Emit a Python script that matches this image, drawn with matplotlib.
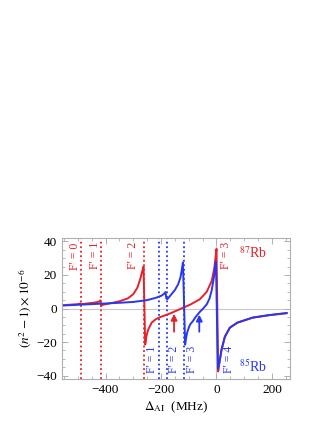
import matplotlib
matplotlib.use("Agg")
import matplotlib.pyplot as plt
from matplotlib.ticker import MultipleLocator

plt.rcParams['font.family'] = ['Liberation Serif', 'DejaVu Serif']
plt.rcParams['mathtext.fontset'] = 'stix'

# readings from the reference picture (MHz, units of 1e-6)
rb87_x = [-550, -500, -490, -486, -440, -425, -419, -416, -410, -380, -350, -320,
          -300, -285, -275, -268, -263, -257, -252, -246, -234, -220, -204, -168,
          -140, -120, -95, -60, -35, -17, -8, -3, 0, 6, 10, 18, 30, 48, 75, 130,
          190, 253]
rb87_y = [2.0, 2.6, 3.0, 2.6, 3.5, 4.0, 4.8, 1.6, 2.2, 3.2, 4.3, 6.0,
          8.5, 12.5, 17.5, 22.0, 25.0, -21.5, -16.0, -12.5, -8.5, -6.5, -5.2, -3.0,
          -1.0, 0.5, 2.3, 5.5, 10.0, 16.5, 24.0, 31.0, 35.5, -37.5, -33.0, -25.0,
          -17.0, -11.5, -8.5, -5.5, -4.0, -2.8]

rb85_x = [-550, -450, -350, -300, -250, -220, -200, -190, -184, -181, -177, -165,
          -150, -138, -130, -125, -121, -113, -110, -106, -100, -95, -85, -75, -60,
          -48, -35, -25, -17, -9, -5, -2, 5, 10, 18, 30, 48, 75, 130, 190, 253]
rb85_y = [1.8, 2.6, 3.4, 3.9, 5.0, 6.3, 7.5, 8.6, 9.8, 6.0, 5.6, 8.0,
          11.0, 14.5, 18.5, 23.0, 27.5, -21.5, -18.0, -14.5, -11.5, -9.5, -7.5, -5.0, -2.0,
          0.0, 2.5, 6.0, 11.0, 19.0, 25.0, 28.0, -36.0, -32.5, -24.5, -16.8, -11.4, -8.4, -5.4, -3.9, -2.7]

rb87_lines = [-489, -417, -260]
rb87_labels = ["F' = 0", "F' = 1", "F' = 2", "F' = 3"]
rb87_label_x = [-510, -438, -301, 34]

rb85_lines = [-208, -179, -116]
rb85_labels = ["F' = 1", "F' = 2", "F' = 3", "F' = 4"]
rb85_label_x = [-232, -153, -88, 45]

red = '#e8202a'
blue = '#2838f0'

fig = plt.figure(figsize=(3.32, 4.30), dpi=100)
ax = fig.add_axes([0.1867, 0.1186, 0.6868, 0.3279])

ax.axhline(0, color='#c8c8c8', lw=0.8, zorder=0)
ax.axvline(0, color='#c8c8c8', lw=0.8, zorder=0)

for x in rb87_lines:
    ax.axvline(x, color=red, ls=(0, (1, 1.5)), lw=1.3, zorder=1)
for x in rb85_lines:
    ax.axvline(x, color=blue, ls=(0, (1, 1.5)), lw=1.3, zorder=1)

ax.plot(rb87_x, rb87_y, color=red, lw=1.4, zorder=3)
ax.plot(rb85_x, rb85_y, color=blue, lw=1.4, zorder=4)

for x, s in zip(rb87_label_x, rb87_labels):
    ax.text(x, 39.5, s, color=red, rotation=90, fontsize=8.5, ha='center', va='top')
for x, s in zip(rb85_label_x, rb85_labels):
    ax.text(x, -38.5, s, color=blue, rotation=90, fontsize=8.5, ha='center', va='bottom')

ax.text(80, 33, r'$^{87}$Rb', color=red, fontsize=10, ha='left', va='center')
ax.text(80, -34.5, r'$^{85}$Rb', color=blue, fontsize=10, ha='left', va='center')

ax.annotate('', xy=(-153, -1.5), xytext=(-153, -15.5),
            arrowprops=dict(arrowstyle='-|>', color=red, lw=1.3, mutation_scale=9))
ax.annotate('', xy=(-62, -2), xytext=(-62, -15.5),
            arrowprops=dict(arrowstyle='-|>', color=blue, lw=1.3, mutation_scale=9))

ax.set_xlim(-557, 265)
ax.set_ylim(-42, 42)
ax.xaxis.set_major_locator(MultipleLocator(200))
ax.xaxis.set_minor_locator(MultipleLocator(50))
ax.yaxis.set_major_locator(MultipleLocator(20))
ax.yaxis.set_minor_locator(MultipleLocator(5))
ax.tick_params(which='both', direction='in', top=True, right=True,
               color='#b0b0b0', labelsize=9.5)
ax.tick_params(which='major', length=4, width=0.7)
ax.tick_params(which='minor', length=2, width=0.6)
for sp in ax.spines.values():
    sp.set_color('#b0b0b0')
    sp.set_linewidth(0.8)

ax.set_xlabel(r'$\Delta_{\rm AI}$  (MHz)', fontsize=9.5, labelpad=3)
ax.set_ylabel(r'$(n^2 - 1)\times 10^{-6}$', fontsize=9.5, labelpad=2)

fig.savefig('out.png', dpi=100)
